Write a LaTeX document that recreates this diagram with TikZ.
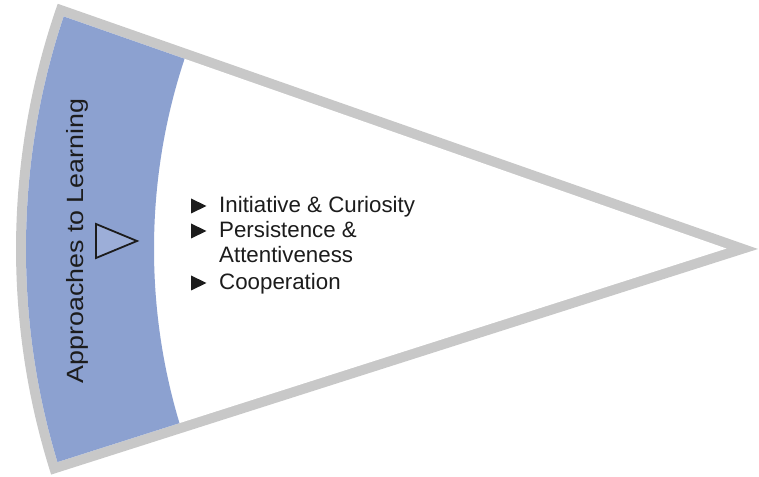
\documentclass[tikz,border=0pt]{standalone}
\usepackage{fontspec}
\setmainfont{Liberation Sans}
\usepackage{graphicx}
\usetikzlibrary{calc}
\definecolor{bordergray}{RGB}{200,200,200}
\definecolor{bandblue}{RGB}{140,161,208}
\definecolor{trifill}{RGB}{156,174,216}
\definecolor{inkcol}{RGB}{28,28,28}
\tikzset{
  itemtext/.style={anchor=base west, inner sep=0pt, font=\fontsize{22.3}{25}\selectfont, text=inkcol},
  bul/.pic={\fill[inkcol] (-28,-0.5) -- (-28,14.5) -- (-12.5,7) -- cycle;}
}
\begin{document}
\begin{tikzpicture}[x=1pt,y=1pt]
\useasboundingbox (0,0) rectangle (759,476);
\coordinate (A) at (758,227);
\coordinate (Ai) at ($(A)+(179.2:31.5)$);
% outer grey sector (border)
\fill[bordergray] (A) -- ($(A)+(160.7:742)$) arc[start angle=160.7,end angle=197.7,radius=742] -- cycle;
% inner white sector and blue band
\begin{scope}
  \clip (Ai) -- ($(Ai)+(160.7:760)$) -- ($(Ai)+(197.7:760)$) -- cycle;
  \fill[white] (A) circle[radius=732];
  \fill[bandblue, even odd rule] (A) circle[radius=732] (A) circle[radius=604];
\end{scope}
% title
\node[rotate=90, anchor=base, inner sep=0pt, font=\fontsize{23.5}{26}\selectfont, text=inkcol] (title) at (83.5,235) {\scalebox{1.14}[1]{Approaches to Learning}};
% outlined triangle
\coordinate (T1) at (96,252);
\coordinate (T2) at (96,218);
\coordinate (T3) at (137,235);
\filldraw[fill=trifill, draw=inkcol, line width=1.8pt, line join=miter] (T1) -- (T3) -- (T2) -- cycle;
% items
\node[itemtext] (i1) at (219,263) {Initiative \& Curiosity};
\node[itemtext] (i2) at (219,238) {Persistence \&};
\node[itemtext] (i2b) at (219,213) {Attentiveness};
\node[itemtext] (i3) at (219,186) {Cooperation};
\path (i1.base west) pic {bul};
\path (i2.base west) pic {bul};
\path (i3.base west) pic {bul};
\end{tikzpicture}
\end{document}
